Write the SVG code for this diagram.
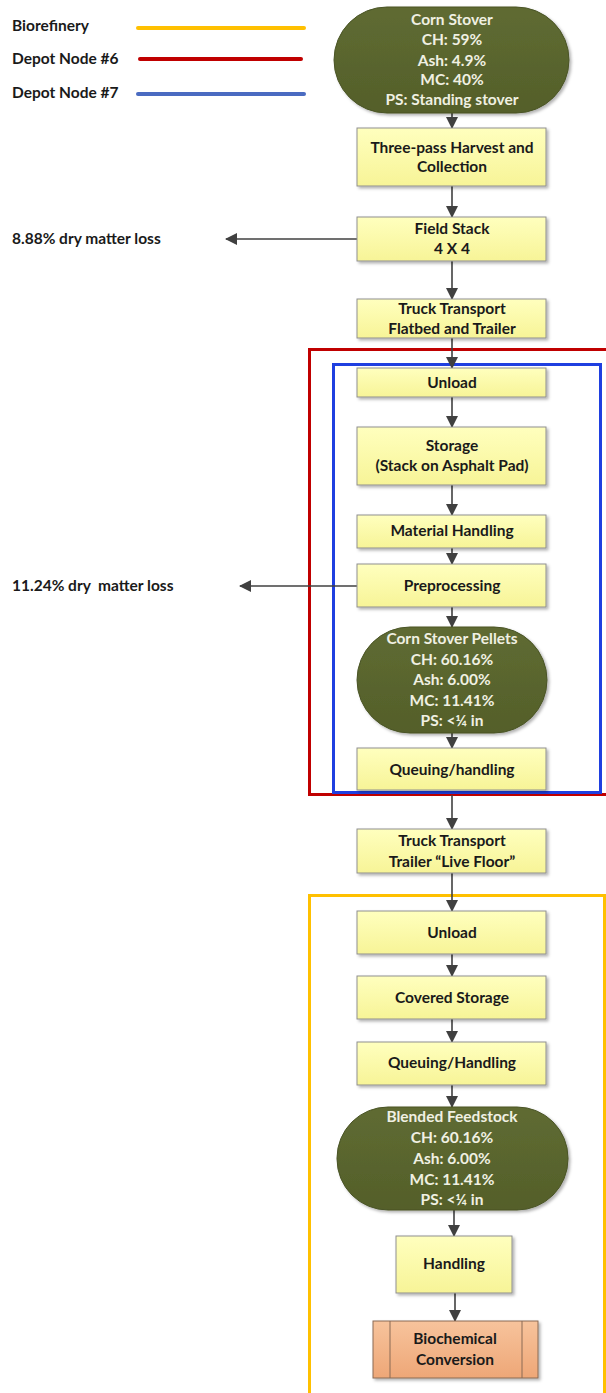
<svg xmlns="http://www.w3.org/2000/svg" width="606" height="1393" viewBox="0 0 606 1393">
<defs>
<linearGradient id="gy" x1="0" y1="0" x2="0" y2="1"><stop offset="0" stop-color="#ffffbe"/><stop offset="1" stop-color="#f7f497"/></linearGradient>
<linearGradient id="go" x1="0" y1="0" x2="0" y2="1"><stop offset="0" stop-color="#5f6b32"/><stop offset="1" stop-color="#545f2a"/></linearGradient>
<linearGradient id="gp" x1="0" y1="0" x2="0" y2="1"><stop offset="0" stop-color="#f7c39c"/><stop offset="1" stop-color="#eea777"/></linearGradient>
<filter id="sh" x="-10%" y="-10%" width="130%" height="140%"><feDropShadow dx="2" dy="2" stdDeviation="1.5" flood-color="#000" flood-opacity="0.3"/></filter>
<marker id="ah" markerWidth="12" markerHeight="12" refX="11" refY="6" orient="auto" markerUnits="userSpaceOnUse"><path d="M0,0 L12,6 L0,12 Z" fill="#404040"/></marker>
<style>
.t{font-family:Lato,"Liberation Sans",sans-serif;font-weight:700;font-size:15.5px;fill:#1a1a1a;text-anchor:middle}
.w{font-family:Lato,"Liberation Sans",sans-serif;font-weight:700;font-size:15.5px;fill:#f0f0e2;text-anchor:middle}
.l{font-family:Lato,"Liberation Sans",sans-serif;font-weight:700;font-size:15.5px;fill:#1a1a1a}
.b{fill:url(#gy);stroke:#8f8f8f;stroke-width:1;filter:url(#sh)}
.o{fill:url(#go);stroke:#4a5426;stroke-width:1;filter:url(#sh)}
.c{stroke:#404040;stroke-width:1.6;fill:none;marker-end:url(#ah)}
</style>
</defs>
<rect width="606" height="1393" fill="#fff"/>

<g id="legend">
<text class="l" x="12" y="31">Biorefinery</text>
<text class="l" x="12" y="64">Depot Node #6</text>
<text class="l" x="12" y="98">Depot Node #7</text>
<line x1="138" y1="28" x2="304" y2="28" stroke="#ffc000" stroke-width="4" stroke-linecap="round"/>
<line x1="140" y1="59" x2="301" y2="59" stroke="#c00000" stroke-width="4" stroke-linecap="round"/>
<line x1="138" y1="94" x2="304" y2="94" stroke="#4a6bc1" stroke-width="4" stroke-linecap="round"/>
</g>

<g id="regions">
<rect id="depot6" x="309.5" y="349.5" width="300" height="445" fill="none" stroke="#c00000" stroke-width="3"/>
<rect id="depot7" x="333.5" y="364.5" width="267" height="428" fill="none" stroke="#1f3fe0" stroke-width="3"/>
<rect id="biorefinery" x="309.5" y="895.5" width="295" height="505" fill="none" stroke="#ffc000" stroke-width="3"/>
</g>

<g id="connectors">
<line class="c" x1="452" y1="113" x2="452" y2="128"/>
<line class="c" x1="452" y1="186" x2="452" y2="217"/>
<line class="c" x1="452" y1="261" x2="452" y2="299"/>
<line class="c" x1="452" y1="338" x2="452" y2="368"/>
<line class="c" x1="452" y1="397" x2="452" y2="427"/>
<line class="c" x1="452" y1="485" x2="452" y2="515"/>
<line class="c" x1="452" y1="548" x2="452" y2="564"/>
<line class="c" x1="452" y1="607" x2="452" y2="627"/>
<line class="c" x1="452" y1="733" x2="452" y2="748"/>
<line class="c" x1="452" y1="795" x2="452" y2="829"/>
<line class="c" x1="452" y1="873" x2="452" y2="911"/>
<line class="c" x1="452" y1="954" x2="452" y2="976"/>
<line class="c" x1="452" y1="1019" x2="452" y2="1042"/>
<line class="c" x1="452" y1="1085" x2="452" y2="1107"/>
<line class="c" x1="454" y1="1210" x2="454" y2="1236"/>
<line class="c" x1="455" y1="1293" x2="455" y2="1321"/>
<line class="c" x1="357" y1="239" x2="226" y2="239"/>
<line class="c" x1="357" y1="586" x2="240" y2="586"/>
</g>

<g id="n-cornstover">
<rect class="o" x="334" y="7" width="235" height="106" rx="53" ry="53"/>
<text class="w" x="452" y="25">Corn Stover</text>
<text class="w" x="452" y="45">CH: 59%</text>
<text class="w" x="452" y="66">Ash: 4.9%</text>
<text class="w" x="452" y="85">MC: 40%</text>
<text class="w" x="452" y="105">PS: Standing stover</text>
</g>
<g id="n-harvest">
<rect class="b" x="357" y="128" width="189" height="58"/>
<text class="t" x="452" y="153">Three-pass Harvest and</text>
<text class="t" x="452" y="172">Collection</text>
</g>
<g id="n-fieldstack">
<rect class="b" x="357" y="217" width="189" height="44"/>
<text class="t" x="452" y="234">Field Stack</text>
<text class="t" x="452" y="254">4 X 4</text>
</g>
<g id="n-loss1">
<text class="l" x="12" y="244">8.88% dry matter loss</text>
</g>
<g id="n-truck1">
<rect class="b" x="357" y="299" width="189" height="39"/>
<text class="t" x="452" y="314">Truck Transport</text>
<text class="t" x="452" y="334">Flatbed and Trailer</text>
</g>
<g id="n-unload1">
<rect class="b" x="357" y="368" width="189" height="29"/>
<text class="t" x="452" y="388">Unload</text>
</g>
<g id="n-storage">
<rect class="b" x="357" y="427" width="189" height="58"/>
<text class="t" x="452" y="451">Storage</text>
<text class="t" x="452" y="471">(Stack on Asphalt Pad)</text>
</g>
<g id="n-material">
<rect class="b" x="357" y="515" width="189" height="33"/>
<text class="t" x="452" y="536">Material Handling</text>
</g>
<g id="n-preproc">
<rect class="b" x="357" y="564" width="189" height="43"/>
<text class="t" x="452" y="591">Preprocessing</text>
</g>
<g id="n-loss2">
<text class="l" x="12" y="591" xml:space="preserve">11.24% dry  matter loss</text>
</g>
<g id="n-pellets">
<rect class="o" x="357" y="627" width="190" height="106" rx="53" ry="53"/>
<text class="w" x="452" y="644">Corn Stover Pellets</text>
<text class="w" x="452" y="665">CH: 60.16%</text>
<text class="w" x="452" y="685">Ash: 6.00%</text>
<text class="w" x="452" y="706">MC: 11.41%</text>
<text class="w" x="452" y="726">PS: &lt;¼ in</text>
</g>
<g id="n-queue1">
<rect class="b" x="357" y="748" width="189" height="42"/>
<text class="t" x="452" y="775">Queuing/handling</text>
</g>
<g id="n-truck2">
<rect class="b" x="357" y="829" width="189" height="44"/>
<text class="t" x="452" y="846">Truck Transport</text>
<text class="t" x="452" y="867">Trailer “Live Floor”</text>
</g>
<g id="n-unload2">
<rect class="b" x="357" y="911" width="189" height="43"/>
<text class="t" x="452" y="938">Unload</text>
</g>
<g id="n-covered">
<rect class="b" x="357" y="976" width="189" height="43"/>
<text class="t" x="452" y="1003">Covered Storage</text>
</g>
<g id="n-queue2">
<rect class="b" x="357" y="1042" width="189" height="43"/>
<text class="t" x="452" y="1068">Queuing/Handling</text>
</g>
<g id="n-blended">
<rect class="o" x="337" y="1107" width="231" height="103" rx="51" ry="51"/>
<text class="w" x="452" y="1122">Blended Feedstock</text>
<text class="w" x="452" y="1143">CH: 60.16%</text>
<text class="w" x="452" y="1164">Ash: 6.00%</text>
<text class="w" x="452" y="1185">MC: 11.41%</text>
<text class="w" x="452" y="1205">PS: &lt;¼ in</text>
</g>
<g id="n-handling">
<rect class="b" x="396" y="1236" width="116" height="57"/>
<text class="t" x="454" y="1269">Handling</text>
</g>
<g id="n-biochem">
<rect x="373" y="1321" width="165" height="57" fill="url(#gp)" stroke="#8a6a55" stroke-width="1" filter="url(#sh)"/>
<line x1="390" y1="1321" x2="390" y2="1378" stroke="#8a6a55" stroke-width="1"/>
<line x1="522" y1="1321" x2="522" y2="1378" stroke="#8a6a55" stroke-width="1"/>
<text class="t" x="455" y="1344">Biochemical</text>
<text class="t" x="455" y="1365">Conversion</text>
</g>
</svg>
